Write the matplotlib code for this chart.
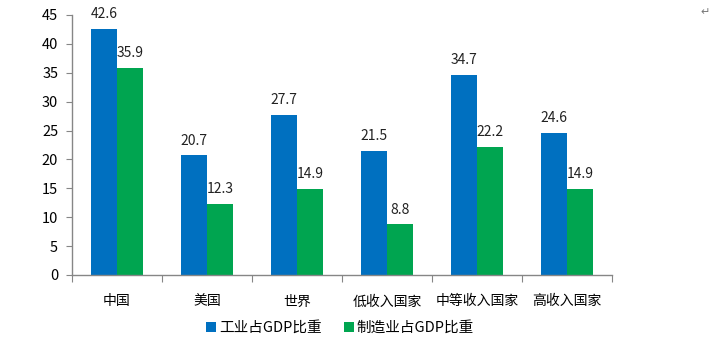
import matplotlib
matplotlib.use("Agg")
import matplotlib.pyplot as plt
import numpy as np

plt.rcParams['font.family'] = ['Noto Sans CJK SC', 'DejaVu Sans']

categories = ["中国", "美国", "世界", "低收入国家", "中等收入国家", "高收入国家"]
industry = [42.6, 20.7, 27.7, 21.5, 34.7, 24.6]
manufacturing = [35.9, 12.3, 14.9, 8.8, 22.2, 14.9]
series_names = ["工业占GDP比重", "制造业占GDP比重"]
yticks = list(range(0, 50, 5))

blue = "#0070C0"
green = "#00A550"
axis_gray = "#868686"

fig = plt.figure(figsize=(7.15, 3.43), dpi=100)
ax = fig.add_axes([72 / 715, 68 / 343, 540 / 715, 260 / 343])

x = np.arange(len(categories))
w = 0.29
b1 = ax.bar(x - w / 2, industry, w, color=blue, label=series_names[0])
b2 = ax.bar(x + w / 2, manufacturing, w, color=green, label=series_names[1])

for bars, vals in ((b1, industry), (b2, manufacturing)):
    for rect, v in zip(bars, vals):
        ax.text(rect.get_x() + rect.get_width() / 2, v + 1.3, f"{v:.1f}",
                ha="center", va="bottom", fontsize=10, color="#222222")

ax.set_xlim(-0.5, len(categories) - 0.5)
ax.set_ylim(0, 45)
ax.set_yticks(yticks)
ax.tick_params(axis="y", labelsize=10.5, length=4, color=axis_gray, pad=6)

ax.set_xticks(np.arange(len(categories) + 1) - 0.5, minor=False)
ax.set_xticklabels([""] * (len(categories) + 1))
ax.set_xticks(x, minor=True)
ax.set_xticklabels(categories, minor=True)
ax.tick_params(axis="x", which="major", length=5, color=axis_gray)
ax.tick_params(axis="x", which="minor", length=0, labelsize=10, pad=14)

for side in ("top", "right"):
    ax.spines[side].set_visible(False)
for side in ("left", "bottom"):
    ax.spines[side].set_color(axis_gray)
    ax.spines[side].set_linewidth(1.0)

leg = fig.legend(handles=[b1, b2], labels=series_names, loc="center",
                 bbox_to_anchor=(340 / 715, 1 - 328 / 343), ncol=2, frameon=False,
                 fontsize=10.5, handlelength=0.7, handleheight=0.7,
                 handletextpad=0.2, columnspacing=1.5)

fig.text(705 / 715, 1 - 12 / 343, "↵", fontsize=8, color="#777777",
         ha="center", va="center")

fig.savefig("out.png", dpi=100)
